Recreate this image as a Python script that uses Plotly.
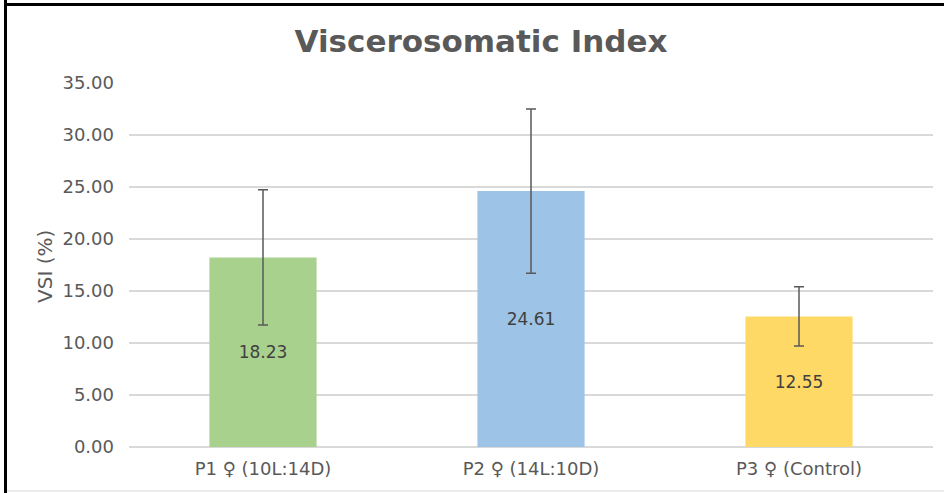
import plotly.graph_objects as go

categories = ["P1 ♀ (10L:14D)", "P2 ♀ (14L:10D)", "P3 ♀ (Control)"]
vsi_values = [18.23, 24.61, 12.55]
vsi_errors = [6.5, 7.9, 2.85]
bar_colors = ["#A9D18E", "#9DC3E6", "#FFD966"]
y_ticks = [0, 5, 10, 15, 20, 25, 30, 35]

W, H = 944, 493
L, R, T, B = 129, 11, 83, 46
pw, ph = W - L - R, H - T - B

def px_x(px):
    return (px - L) / pw

def px_y(py):
    return (H - B - py) / ph

FONT = "DejaVu Sans"

fig = go.Figure()
fig.add_trace(go.Bar(
    x=categories,
    y=vsi_values,
    marker=dict(color=bar_colors, line=dict(width=0)),
    width=0.4,
    text=[f"{v:.2f}" for v in vsi_values],
    textposition="inside",
    insidetextanchor="middle",
    textangle=0,
    textfont=dict(family=FONT, size=17, color="#404040"),
    error_y=dict(type="data", array=vsi_errors, visible=True,
                 color="#595959", thickness=1.5, width=5),
    hoverinfo="skip",
))

fig.update_layout(
    width=W, height=H,
    margin=dict(l=L, r=R, t=T, b=B, pad=0),
    paper_bgcolor="white",
    plot_bgcolor="white",
    showlegend=False,
    title=dict(text="<b>Viscerosomatic Index</b>", x=(481) / W, xanchor="center",
               y=1 - 41 / H, yanchor="middle",
               font=dict(family=FONT, size=31, color="#595959")),
    xaxis=dict(showgrid=False, showline=False, zeroline=False,
               tickfont=dict(family=FONT, size=18, color="#595959"),
               ticklabelstandoff=9),
    yaxis=dict(range=[0, 35], tickvals=y_ticks,
               ticktext=[f"{v:.2f}" for v in y_ticks],
               showgrid=True, gridcolor="#D9D9D9", gridwidth=1.5,
               zeroline=True, zerolinecolor="#D9D9D9", zerolinewidth=1.5,
               showline=False,
               tickfont=dict(family=FONT, size=18, color="#595959"),
               ticklabelstandoff=14),
    annotations=[dict(text="VSI (%)", x=px_x(45), y=px_y(267), xref="paper", yref="paper",
                      showarrow=False, textangle=-90, xanchor="center", yanchor="middle",
                      font=dict(family=FONT, size=20, color="#595959"))],
    shapes=[
        dict(type="line", xref="paper", yref="paper", x0=px_x(5.5), x1=px_x(5.5),
             y0=px_y(0), y1=px_y(493), line=dict(color="black", width=3)),
        dict(type="line", xref="paper", yref="paper", x0=px_x(4), x1=px_x(944),
             y0=px_y(4.5), y1=px_y(4.5), line=dict(color="black", width=3)),
        dict(type="line", xref="paper", yref="paper", x0=px_x(7), x1=px_x(944),
             y0=px_y(491), y1=px_y(491), line=dict(color="#D9D9D9", width=1)),
    ],
)

fig.write_html("out.html",
               config={"displayModeBar": False, "staticPlot": True},
               post_script="document.body.style.margin='0';document.body.style.padding='0';")
